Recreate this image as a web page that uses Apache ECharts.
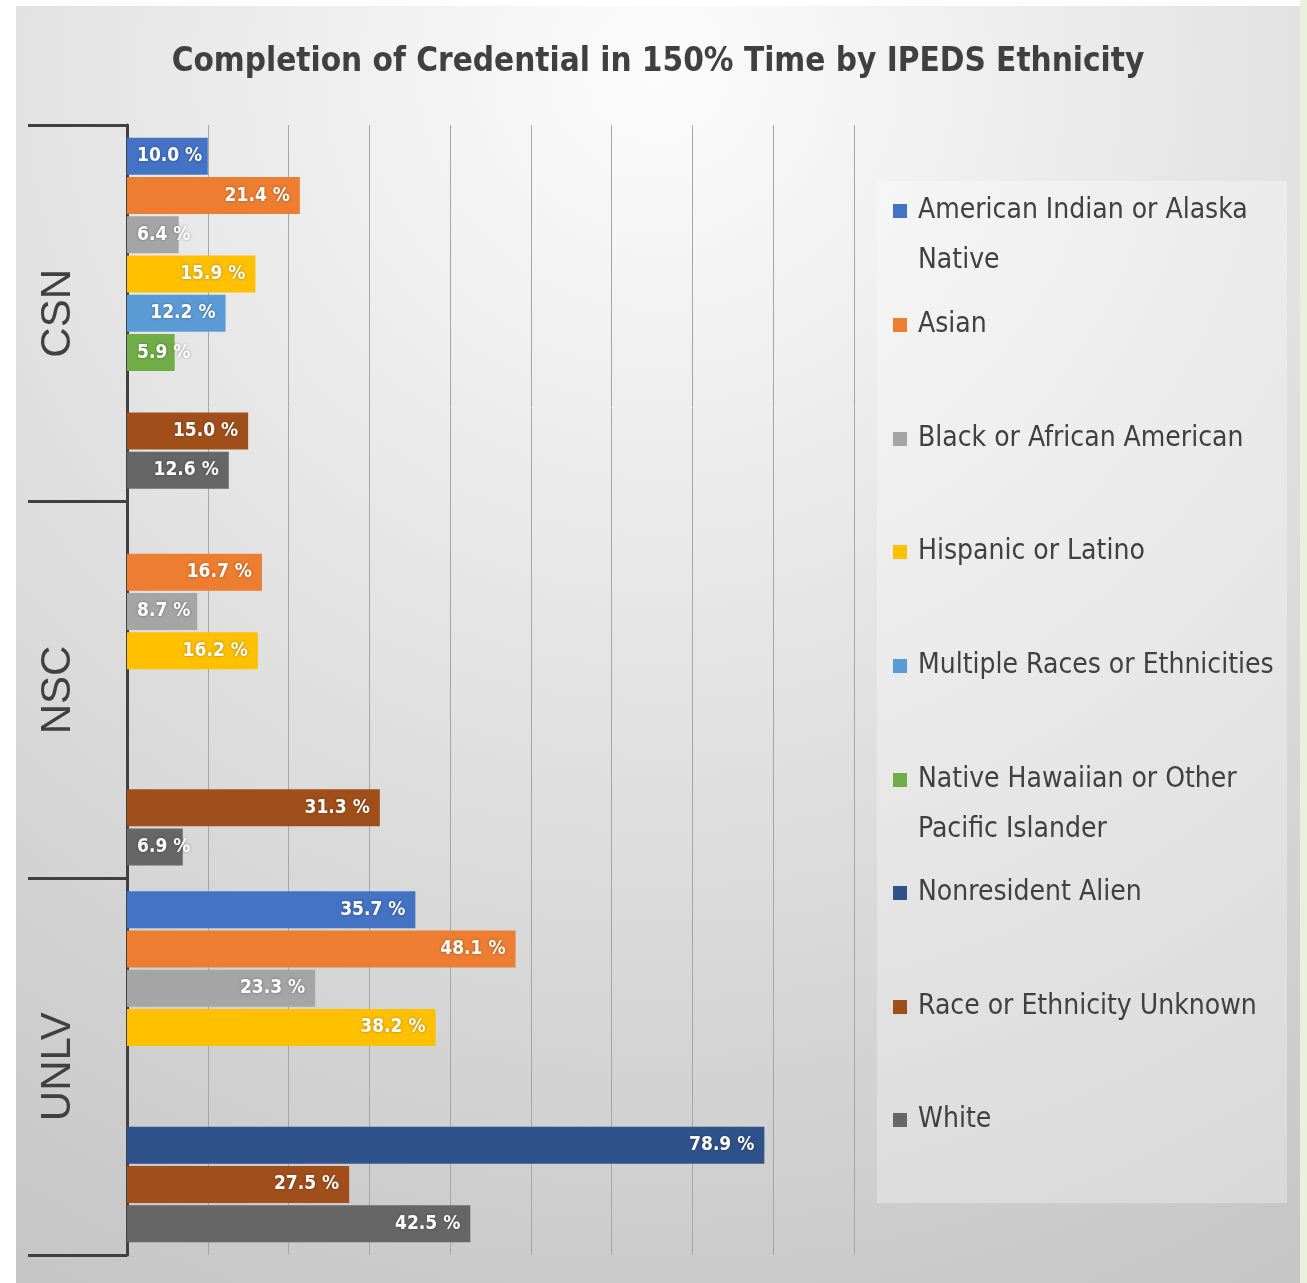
<!DOCTYPE html>
<html>
<head>
<meta charset="utf-8">
<script src="https://cdn.jsdelivr.net/npm/echarts@6/dist/echarts.min.js"></script>
<style>
    html, body { margin: 0; padding: 0; background: #fff; width: 1307px; height: 1283px; overflow: hidden; }
    #chart { position: absolute; left: 16px; top: 6px; width: 1284px; height: 1277px; }
    #edge { position: absolute; left: 1300px; top: 0; width: 7px; height: 1283px; background: #e9f0dc; }
</style>
</head>
<body>
<div id="chart"></div>
<div id="edge"></div>
<script>
// colleges (top to bottom) and ethnicity series, values in %
const colleges = ['CSN', 'NSC', 'UNLV'];
const ethnicities = [
    'American Indian or Alaska Native',
    'Asian',
    'Black or African American',
    'Hispanic or Latino',
    'Multiple Races or Ethnicities',
    'Native Hawaiian or Other Pacific Islander',
    'Nonresident Alien',
    'Race or Ethnicity Unknown',
    'White'
];
const americanIndian = [10.0, null, 35.7];
const asian = [21.4, 16.7, 48.1];
const black = [6.4, 8.7, 23.3];
const hispanic = [15.9, 16.2, 38.2];
const multiple = [12.2, null, null];
const nativeHawaiian = [5.9, null, null];
const nonresident = [null, null, 78.9];
const unknown = [15.0, 31.3, 27.5];
const white = [12.6, 6.9, 42.5];

const seriesValues = [americanIndian, asian, black, hispanic, multiple, nativeHawaiian, nonresident, unknown, white];
const colors = ['#4472C4', '#ED7D31', '#A5A5A5', '#FFC000', '#5B9BD5', '#70AD47', '#30528A', '#A14F1A', '#666666'];

// wrapped legend texts; the blank first line keeps the marker on the first real line
const legendText = {
    'American Indian or Alaska Native': ' \nAmerican Indian or Alaska\nNative',
    'Native Hawaiian or Other Pacific Islander': ' \nNative Hawaiian or Other\nPacific Islander'
};
// first line centre of each legend entry
const legendY = [205, 319, 433, 546, 660, 774, 887, 1001, 1114];

const narrow = "'DejaVu Sans Condensed', 'Liberation Sans Narrow', sans-serif";

let series = ethnicities.map((name, i) => ({
    type: 'bar',
    name: name,
    barGap: '6%',
    barCategoryGap: '6.8%',
    itemStyle: { color: colors[i] },
    label: {
        show: true,
        color: '#fff',
        fontFamily: narrow,
        fontWeight: 'bold',
        fontSize: 19,
        distance: 10,
        textShadowColor: 'rgba(0,0,0,0.35)',
        textShadowBlur: 3,
        formatter: p => p.value.toFixed(1) + ' %'
    },
    data: seriesValues[i].map(v => v == null ? '-' : {
        value: v,
        label: { position: v < 12 ? 'insideLeft' : 'insideRight' }
    })
}));

let legends = ethnicities.map((name, i) => {
    let twoLines = !!legendText[name];
    return {
        data: [name],
        orient: 'vertical',
        left: 877,
        top: legendY[i] - (twoLines ? 75 : 25),
        padding: 0,
        icon: 'rect',
        itemWidth: 14,
        itemHeight: 14,
        formatter: n => legendText[n] || n,
        textStyle: {
            fontFamily: narrow,
            fontSize: 28,
            lineHeight: 50,
            color: '#404040',
            padding: [0, 0, 0, 6]
        }
    };
});

let myChart = echarts.init(document.getElementById('chart'));
myChart.setOption({
    animation: false,
    backgroundColor: {
        type: 'radial', x: 0.5, y: 0.05, r: 1.05,
        colorStops: [{ offset: 0, color: '#fcfcfc' }, { offset: 1, color: '#c6c6c6' }]
    },
    title: {
        text: 'Completion of Credential in 150% Time by IPEDS Ethnicity',
        left: 'center',
        top: 34,
        padding: 0,
        textStyle: { fontFamily: narrow, fontWeight: 'bold', fontSize: 33, lineHeight: 44, color: '#404040' }
    },
    graphic: [{
        type: 'rect',
        shape: { x: 861, y: 175, width: 410, height: 1022 },
        style: { fill: 'rgba(255,255,255,0.3)' },
        z: -1
    }],
    legend: legends,
    grid: { left: 111, top: 119, width: 727, height: 1130, containLabel: false },
    xAxis: {
        type: 'value',
        min: 0,
        max: 90,
        interval: 10,
        axisLabel: { show: false },
        axisLine: { show: false },
        axisTick: { show: false },
        splitLine: { show: true, lineStyle: { color: '#a6a6a6', width: 1 } }
    },
    yAxis: {
        type: 'category',
        data: colleges,
        inverse: true,
        axisLine: { show: true, lineStyle: { color: '#404040', width: 3 } },
        axisTick: { show: true, alignWithLabel: false, length: 99, lineStyle: { color: '#404040', width: 3 } },
        axisLabel: {
            rotate: 90,
            margin: 48,
            fontSize: 42,
            fontFamily: "'Liberation Sans', sans-serif",
            color: '#404040'
        }
    },
    series: series
});
</script>
</body>
</html>
